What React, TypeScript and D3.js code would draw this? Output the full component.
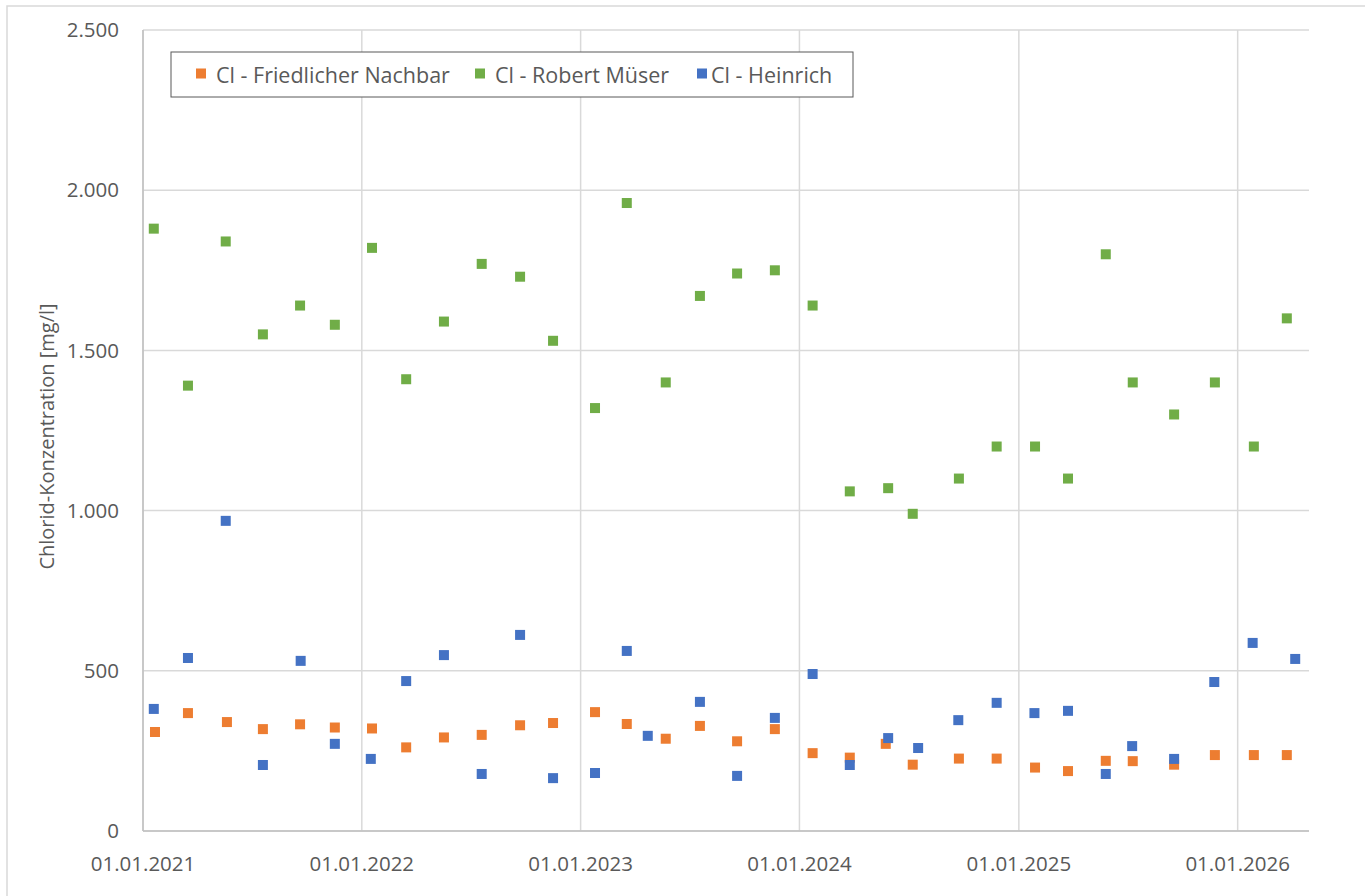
import React from "react";
import * as d3 from "d3";

const seriesNames = ["Cl - Friedlicher Nachbar", "Cl - Robert Müser", "Cl - Heinrich"];
const seriesColors = ["#ED7D31", "#70AD47", "#4472C4"];

const nachbarDates = [
  "2021-01-21", "2021-03-17", "2021-05-21", "2021-07-20", "2021-09-20", "2021-11-17",
  "2022-01-18", "2022-03-16", "2022-05-18", "2022-07-20", "2022-09-22", "2022-11-16",
  "2023-01-25", "2023-03-19", "2023-05-23", "2023-07-19", "2023-09-19", "2023-11-21",
  "2024-01-23", "2024-03-25", "2024-05-24", "2024-07-08", "2024-09-23", "2024-11-25",
  "2025-01-28", "2025-03-24", "2025-05-26", "2025-07-10", "2025-09-17", "2025-11-24",
  "2026-01-28", "2026-03-24",
];
const nachbarValues = [
  309, 368, 340, 318, 333, 323, 320, 261, 292, 300, 330, 337, 371, 334, 288, 328, 280, 318,
  243, 229, 272, 207, 226, 226, 198, 187, 219, 218, 207, 237, 237, 237,
];

const mueserDates = [
  "2021-01-19", "2021-03-17", "2021-05-19", "2021-07-20", "2021-09-20", "2021-11-17",
  "2022-01-18", "2022-03-16", "2022-05-18", "2022-07-20", "2022-09-22", "2022-11-16",
  "2023-01-25", "2023-03-19", "2023-05-23", "2023-07-19", "2023-09-19", "2023-11-21",
  "2024-01-23", "2024-03-25", "2024-05-28", "2024-07-08", "2024-09-23", "2024-11-25",
  "2025-01-28", "2025-03-24", "2025-05-26", "2025-07-10", "2025-09-17", "2025-11-24",
  "2026-01-28", "2026-03-24",
];
const mueserValues = [
  1880, 1390, 1840, 1550, 1640, 1580, 1820, 1410, 1590, 1770, 1730, 1530, 1320, 1960, 1400,
  1670, 1740, 1750, 1640, 1060, 1070, 990, 1100, 1200, 1200, 1100, 1800, 1400, 1300, 1400,
  1200, 1600,
];

const heinrichDates = [
  "2021-01-19", "2021-03-17", "2021-05-19", "2021-07-20", "2021-09-21", "2021-11-17",
  "2022-01-16", "2022-03-16", "2022-05-18", "2022-07-20", "2022-09-22", "2022-11-16",
  "2023-01-25", "2023-03-19", "2023-04-23", "2023-07-19", "2023-09-19", "2023-11-21",
  "2024-01-23", "2024-03-25", "2024-05-28", "2024-07-17", "2024-09-22", "2024-11-25",
  "2025-01-27", "2025-03-24", "2025-05-26", "2025-07-09", "2025-09-17", "2025-11-23",
  "2026-01-26", "2026-04-07",
];
const heinrichValues = [
  381, 540, 968, 206, 531, 272, 225, 468, 549, 178, 612, 165, 181, 562, 297, 403, 172, 353,
  490, 206, 290, 259, 346, 400, 368, 375, 178, 265, 225, 465, 587, 537,
];

const yTicks = [0, 500, 1000, 1500, 2000, 2500];
const xTickLabels = ["01.01.2021", "01.01.2022", "01.01.2023", "01.01.2024", "01.01.2025", "01.01.2026"];
const yTitle = "Chlorid-Konzentration [mg/l]";

const parse = d3.utcParse("%Y-%m-%d");
const parseTick = d3.utcParse("%d.%m.%Y");

export default function App() {
  const W = 1365, H = 896;
  const left = 143, right = 1309, top = 30, bottom = 831;
  const x = d3.scaleUtc().domain([parse("2021-01-01")!, parse("2026-04-30")!]).range([left, right]);
  const y = d3.scaleLinear().domain([0, 2500]).range([bottom, top]);
  const font = "'Open Sans', 'Noto Sans', sans-serif";
  const txt = "#595959";
  const grid = "#d9d9d9";
  const ms = 10;

  const series = [
    { dates: nachbarDates, values: nachbarValues },
    { dates: mueserDates, values: mueserValues },
    { dates: heinrichDates, values: heinrichValues },
  ];

  const xTicks = xTickLabels.map((l) => parseTick(l)!);
  const fmtY = (v: number) => d3.format(",")(v).replace(/,/g, ".");

  const legendItems = [
    { x: 196, tx: 216 },
    { x: 475, tx: 495 },
    { x: 697, tx: 711 },
  ];

  return (
    <svg width={W} height={H} style={{ position: "absolute", left: 0, top: 0, background: "#fff" }} fontFamily={font}>
      <rect x={7} y={6} width={W + 10} height={H + 10} fill="#fff" stroke={grid} strokeWidth={1.5} />
      {yTicks.map((t) => (
        <line key={"gy" + t} x1={left} x2={right} y1={y(t)} y2={y(t)} stroke={grid} strokeWidth={1.5} />
      ))}
      {xTicks.map((t, i) => (
        <line key={"gx" + i} x1={x(t)} x2={x(t)} y1={top} y2={bottom} stroke={grid} strokeWidth={1.5} />
      ))}
      <line x1={left} x2={left} y1={top} y2={bottom} stroke="#bfbfbf" strokeWidth={1.5} />
      <line x1={left} x2={right} y1={bottom} y2={bottom} stroke="#bfbfbf" strokeWidth={1.5} />
      {yTicks.map((t) => (
        <text key={"ly" + t} x={119} y={y(t)} dy="0.35em" textAnchor="end" fontSize={20.5} fill={txt}>
          {fmtY(t)}
        </text>
      ))}
      {xTicks.map((t, i) => (
        <text key={"lx" + i} x={x(t)} y={871} textAnchor="middle" fontSize={20.5} fill={txt}>
          {xTickLabels[i]}
        </text>
      ))}
      <text
        transform={`translate(54, ${(top + bottom) / 2 + 6}) rotate(-90)`}
        textAnchor="middle"
        fontSize={20}
        fill={txt}
      >
        {yTitle}
      </text>
      {series.map((s, si) => (
        <g key={"s" + si} fill={seriesColors[si]}>
          {s.dates.map((d, i) => (
            <rect
              key={i}
              x={x(parse(d)!) - ms / 2}
              y={y(s.values[i]) - ms / 2}
              width={ms}
              height={ms}
            />
          ))}
        </g>
      ))}
      <rect x={171} y={52} width={682} height={45} fill="#fff" stroke="#595959" strokeWidth={1} />
      {seriesNames.map((n, i) => (
        <g key={"lg" + i}>
          <rect x={legendItems[i].x} y={68.5} width={10} height={10} fill={seriesColors[i]} />
          <text x={legendItems[i].tx} y={75} dy="0.35em" fontSize={21.5} fill={txt}>
            {n}
          </text>
        </g>
      ))}
    </svg>
  );
}
